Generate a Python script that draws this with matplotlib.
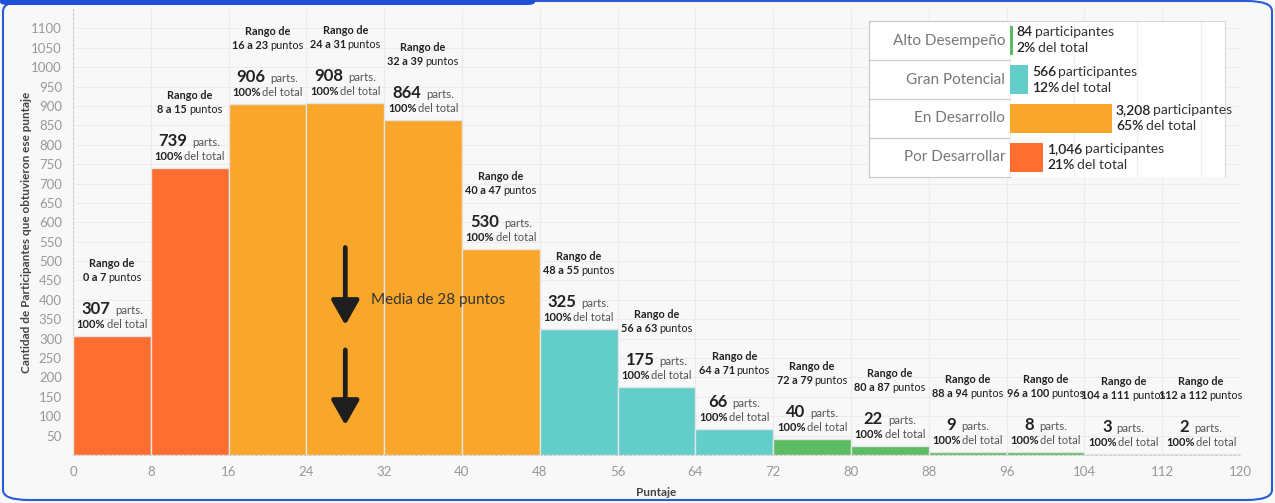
import matplotlib
matplotlib.use("Agg")
import matplotlib.pyplot as plt
import matplotlib.transforms as mtransforms
from matplotlib.patches import FancyBboxPatch

plt.rcParams['font.family'] = ['Lato', 'DejaVu Sans']

# ---------------- data ----------------
bin_starts = [0, 8, 16, 24, 32, 40, 48, 56, 64, 72, 80, 88, 96, 104, 112]
range_labels = ["0 a 7", "8 a 15", "16 a 23", "24 a 31", "32 a 39", "40 a 47",
                "48 a 55", "56 a 63", "64 a 71", "72 a 79", "80 a 87", "88 a 94",
                "96 a 100", "104 a 111", "112 a 112"]
counts = [307, 739, 906, 908, 864, 530, 325, 175, 66, 40, 22, 9, 8, 3, 2]
pct_labels = ["100%"] * 15
groups = ["Por Desarrollar", "Por Desarrollar", "En Desarrollo", "En Desarrollo",
          "En Desarrollo", "En Desarrollo", "Gran Potencial", "Gran Potencial",
          "Gran Potencial", "Alto Desempeño", "Alto Desempeño", "Alto Desempeño",
          "Alto Desempeño", "Otros", "Otros"]
x_ticks = list(range(0, 121, 8))
y_ticks = list(range(50, 1101, 50))
mean_score = 28

legend_cats = ["Alto Desempeño", "Gran Potencial", "En Desarrollo", "Por Desarrollar"]
legend_counts = [84, 566, 3208, 1046]
legend_pcts = ["2%", "12%", "65%", "21%"]

colors = {"Por Desarrollar": "#FF6E30", "En Desarrollo": "#F8A72A",
          "Gran Potencial": "#63CDCA", "Alto Desempeño": "#5DBB63",
          "Otros": "#D6D6D6"}

# ---------------- figure ----------------
W, H = 1275, 503
fig = plt.figure(figsize=(W / 100, H / 100), dpi=100)
bg = "#f8f8f8"
fig.patch.set_facecolor(bg)

def px_axes(x0, y0, x1, y1):
    return fig.add_axes([x0 / W, 1 - y1 / H, (x1 - x0) / W, (y1 - y0) / H])

ax = px_axes(73, 9, 1240, 455)
ax.set_facecolor(bg)
ymax = 1150
ax.set_xlim(0, 120)
ax.set_ylim(0, ymax)

bar_colors = [colors[g] for g in groups]
ax.bar(bin_starts, counts, width=8, align='edge', color=bar_colors,
       edgecolor="#e4e4e4", linewidth=1.0, zorder=3)

ax.set_xticks(x_ticks)
ax.set_yticks(y_ticks)
ax.tick_params(axis='both', length=0, colors="#999999", labelsize=9.5)
ax.tick_params(axis='x', pad=8)
ax.tick_params(axis='y', pad=8)
ax.grid(True, color="#ececec", linewidth=0.8, zorder=0)
for s in ['top', 'right']:
    ax.spines[s].set_visible(False)
ax.spines['left'].set_color("#cfcfcf")
ax.spines['left'].set_linestyle((0, (2, 2)))
ax.spines['bottom'].set_color("#cfcfcf")
ax.spines['bottom'].set_linestyle((0, (2, 2)))

ax.set_ylabel("Cantidad de Participantes que obtuvieron ese puntaje",
              fontsize=8.5, color="#444444", fontweight='bold')
ax.set_xlabel("Puntaje", fontsize=8.5, color="#444444", fontweight='bold')
ax.yaxis.set_label_coords((27 - 73) / 1167, 0.5)
ax.xaxis.set_label_coords(0.5, (455 - 493) / 446)
ax.xaxis.label.set_va('center')
ax.yaxis.label.set_va('center')

renderer = fig.canvas.get_renderer()

def mixed_line(axis, x, y, dy_px, pieces, gap=2.5):
    """pieces: list of (text, weight, size, color); centered at data x, offset dy px."""
    texts = []
    for s, w, sz, c in pieces:
        t = axis.text(x, y, s, fontweight=w, fontsize=sz, color=c,
                      ha='left', va='baseline', zorder=6)
        texts.append(t)
    widths = [t.get_window_extent(renderer).width for t in texts]
    total = sum(widths) + gap * (len(widths) - 1)
    off = -total / 2
    for t, w in zip(texts, widths):
        t.set_transform(mtransforms.offset_copy(axis.transData, fig=fig,
                                                x=off, y=dy_px, units='dots'))
        off += w + gap
    return texts

dark = "#222222"
grey = "#555555"
for xs, rl, c, p in zip(bin_starts, range_labels, counts, pct_labels):
    xc = xs + 4
    mixed_line(ax, xc, c, 8, [(p, 'bold', 8, dark), ("del total", 'normal', 8, grey)], gap=1.5)
    mixed_line(ax, xc, c, 22, [(str(c), 'bold', 12, dark), ("parts.", 'normal', 8.3, grey)], gap=5)
    mixed_line(ax, xc, c, 55, [(rl, 'bold', 7.8, dark), ("puntos", 'normal', 7.8, dark)], gap=2)
    mixed_line(ax, xc, c, 69, [("Rango de", 'bold', 7.8, dark)])

# mean arrows
arrow_kw = dict(arrowstyle="-|>,head_length=1.5,head_width=0.85", color="#1e1e1e",
                lw=3.4, shrinkA=0, shrinkB=0)
ax.annotate("", xy=(mean_score, 335), xytext=(mean_score, 535),
            arrowprops=arrow_kw, zorder=7)
ax.annotate("", xy=(mean_score, 77), xytext=(mean_score, 271),
            arrowprops=arrow_kw, zorder=7)
ax.text(mean_score + 2.6, 400, f"Media de {mean_score} puntos", fontsize=11,
        color="#333333", va='center', ha='left', zorder=7)

# ---------------- legend panel ----------------
lab_ax = px_axes(869, 21, 1010, 177)
lab_ax.set_xlim(0, 1)
lab_ax.set_ylim(-0.5, 3.5)
lab_ax.invert_yaxis()
lab_ax.set_facecolor("white")
lab_ax.set_xticks([])
lab_ax.set_yticks([])
for s in lab_ax.spines.values():
    s.set_color("#c8c8c8")
for i, cat in enumerate(legend_cats):
    lab_ax.text(0.965, i, cat, ha='right', va='center', fontsize=11, color="#777777")
    if i > 0:
        lab_ax.axhline(i - 0.5, color="#cfcfcf", lw=1.0)

bar_ax = px_axes(1010, 21, 1225, 177)
bar_ax.set_facecolor("white")
bar_ax.set_xlim(0, 6760)
bar_ax.set_ylim(-0.5, 3.5)
bar_ax.invert_yaxis()
bar_ax.barh(range(len(legend_cats)), legend_counts, height=0.74,
            color=[colors[c] for c in legend_cats], zorder=3)
bar_ax.set_xticks([0, 2000, 4000, 6000])
bar_ax.set_xticklabels([])
bar_ax.set_yticks([])
bar_ax.tick_params(length=0)
bar_ax.grid(True, axis='x', color="#eeeeee", lw=0.8, zorder=0)
for s in ['left', 'bottom']:
    bar_ax.spines[s].set_visible(False)
for s in ['top', 'right']:
    bar_ax.spines[s].set_color("#d8d8d8")

def legend_line(axis, x, y, dy_px, pieces, gap=2):
    off = 4
    for s, w, sz, c in pieces:
        t = axis.text(x, y, s, fontweight=w, fontsize=sz, color=c, ha='left',
                      va='center', zorder=6,
                      transform=mtransforms.offset_copy(axis.transData, fig=fig,
                                                        x=off, y=dy_px, units='dots'))
        off += t.get_window_extent(renderer).width + gap

for i, (n, p) in enumerate(zip(legend_counts, legend_pcts)):
    legend_line(bar_ax, n, i, 8, [(f"{n:,}", 'semibold', 10, "#222222"),
                                  ("participantes", 'normal', 10, "#333333")])
    legend_line(bar_ax, n, i, -8, [(p, 'semibold', 10, "#222222"),
                                   ("del total", 'normal', 10, "#333333")])

# ---------------- card frame ----------------
frame = FancyBboxPatch((3 / W, 3 / H), (W - 6) / W, (H - 4) / H,
                       boxstyle="round,pad=0,rounding_size=0.02",
                       transform=fig.transFigure, facecolor='none',
                       edgecolor="#2a5bd7", lw=1.5, zorder=0)
fig.patches.append(frame)
topbar = FancyBboxPatch((0, (H - 5) / H), 535 / W, 8 / H,
                        boxstyle="round,pad=0,rounding_size=0.006",
                        transform=fig.transFigure, facecolor="#1d4fd8",
                        edgecolor='none', zorder=1)
fig.patches.append(topbar)

fig.savefig("out.png", dpi=100, facecolor=fig.get_facecolor())
